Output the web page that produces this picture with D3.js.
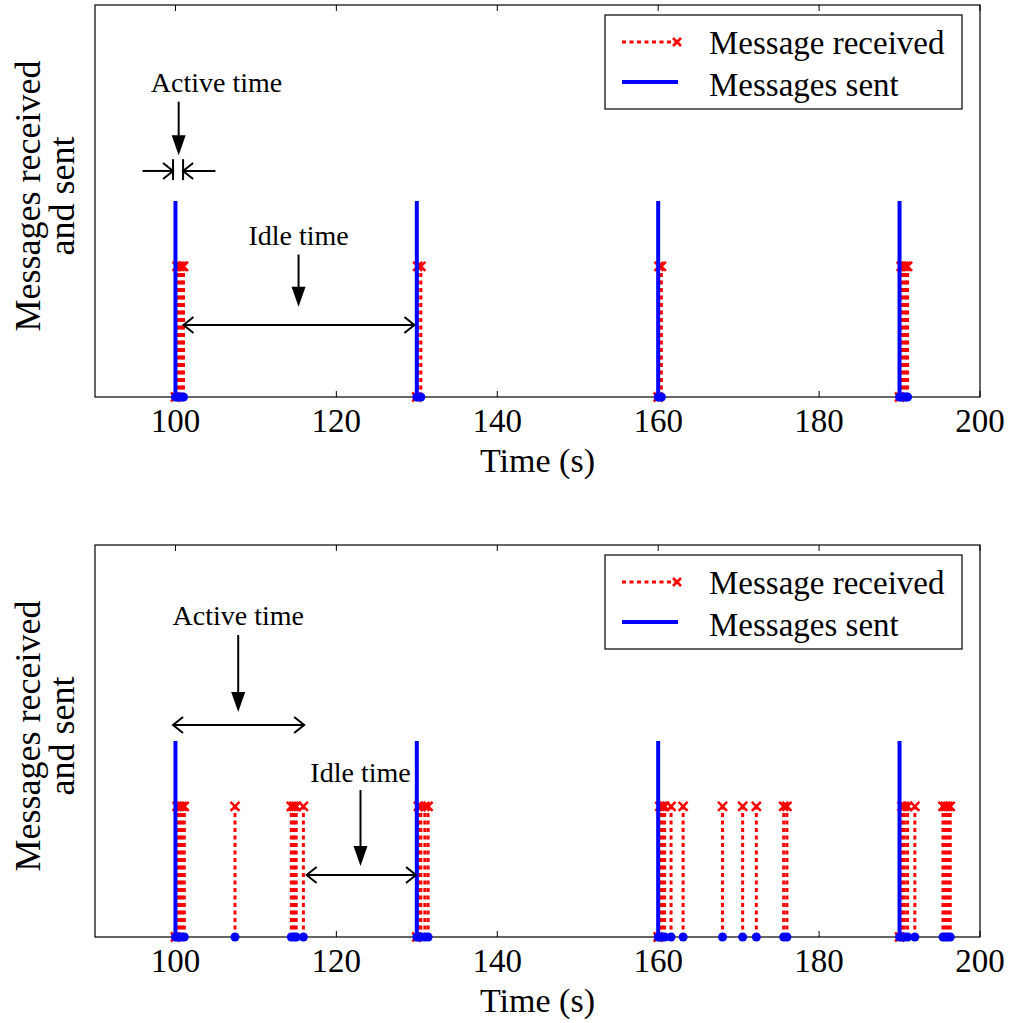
<!DOCTYPE html>
<html lang="en">
<head>
  <meta charset="UTF-8">
  <title>Messages received and sent</title>
  <script src="https://d3js.org/d3.v7.min.js"></script>
  <style>
      body { margin: 0; background: #fff; }
      text { font-family: "Liberation Serif", "Times New Roman", serif; fill: #000; }
      .frame { fill: none; stroke: #000; stroke-width: 1.2px; }
      .tick-mark { stroke: #000; stroke-width: 1px; }
      .recv { stroke: #f00; stroke-width: 3px; stroke-dasharray: 4 3.5; }
      .sent { stroke: #00f; stroke-width: 4px; }
      .anno { stroke: #000; stroke-width: 2px; fill: none; }
  </style>
</head>
<body>
<svg width="1013" height="1023"></svg>
<script>
  // data (time in s)
  const xTicks = [100, 120, 140, 160, 180, 200];
  const sentLevel = 1.5;
  const receivedLevel = 1;

  const topSent = [100, 130, 160, 190];
  const topReceived = [100.2, 100.5, 100.8, 101.0, 130.1, 130.5, 160.1, 160.4,
                       190.2, 190.5, 190.8, 191.0];

  const bottomSent = [100, 130, 160, 190];
  const bottomReceived = [100.2, 100.5, 100.8, 101.1, 107.4, 114.4, 114.7, 115.0, 115.9,
                          130.2, 130.5, 131.0, 131.4,
                          160.2, 160.5, 160.8, 161.6, 163.1, 168.0, 170.5, 172.2, 175.6, 176.0,
                          190.3, 190.6, 191.0, 191.9, 195.4, 195.7, 196.0, 196.3];

  const legendLabels = ["Message received", "Messages sent"];

  // annotations in data units: [t, value]
  const topAnno = {
    texts: [{label: "Active time", t: 105.1, v: 2.334}, {label: "Idle time", t: 115.3, v: 1.16}],
    down: [{t: 100.4, v1: 2.26, v2: 1.85}, {t: 115.3, v1: 1.09, v2: 0.69}],
    double: [{t1: 101.0, t2: 129.7, v: 0.551}],
    squeeze: {t1: 99.7, t2: 100.95, v: 1.73, vTop: 1.82, vBot: 1.66, out1: 95.9, out2: 104.97}
  };
  const bottomAnno = {
    texts: [{label: "Active time", t: 107.8, v: 2.388}, {label: "Idle time", t: 123.0, v: 1.186}],
    down: [{t: 107.8, v1: 2.311, v2: 1.722}, {t: 123.0, v1: 1.125, v2: 0.543}],
    double: [{t1: 99.7, t2: 116.0, v: 1.622}, {t1: 116.3, t2: 129.9, v: 0.474}],
    squeeze: null
  };

  const svg = d3.select("svg");

  const x = d3.scaleLinear().domain([90, 200]).range([95, 980]);

  function drawPanel(top, bottom, sent, received, anno) {
    const y = d3.scaleLinear().domain([0, 3]).range([bottom, top]);
    const g = svg.append("g");

    // frame
    g.append("rect").attr("class", "frame")
      .attr("x", x(90)).attr("y", top)
      .attr("width", x(200) - x(90)).attr("height", bottom - top);

    // ticks (inward, bottom and top)
    xTicks.forEach(t => {
      g.append("line").attr("class", "tick-mark")
        .attr("x1", x(t)).attr("x2", x(t)).attr("y1", bottom).attr("y2", bottom - 6);
      g.append("line").attr("class", "tick-mark")
        .attr("x1", x(t)).attr("x2", x(t)).attr("y1", top).attr("y2", top + 6);
      g.append("text").attr("x", x(t)).attr("y", bottom + 35)
        .attr("text-anchor", "middle").style("font-size", "33px").text(t);
    });

    g.append("text").attr("x", (x(90) + x(200)) / 2).attr("y", bottom + 75)
      .attr("text-anchor", "middle").style("font-size", "34px").text("Time (s)");

    const ymid = (top + bottom) / 2 - 5;
    g.append("text").attr("transform", `translate(40,${ymid}) rotate(-90)`)
      .attr("text-anchor", "middle").style("font-size", "36px").text("Messages received");
    g.append("text").attr("transform", `translate(74,${ymid}) rotate(-90)`)
      .attr("text-anchor", "middle").style("font-size", "36px").text("and sent");

    // received stems (red dotted with x markers)
    g.append("g").selectAll("line").data(received).join("line")
      .attr("class", "recv")
      .attr("x1", d => x(d)).attr("x2", d => x(d))
      .attr("y1", y(0)).attr("y2", y(receivedLevel));

    const cross = (sel, cx, cy, s) => {
      sel.append("path")
        .attr("d", `M${cx - s},${cy - s}L${cx + s},${cy + s}M${cx - s},${cy + s}L${cx + s},${cy - s}`)
        .attr("stroke", "#f00").attr("stroke-width", 2.5).attr("fill", "none");
    };
    received.forEach(t => cross(g, x(t), y(receivedLevel), 4.5));
    sent.forEach(t => cross(g, x(t), y(0), 4.5));

    // sent stems (blue solid, dots at baseline)
    g.append("g").selectAll("line").data(sent).join("line")
      .attr("class", "sent")
      .attr("x1", d => x(d)).attr("x2", d => x(d))
      .attr("y1", y(0)).attr("y2", y(sentLevel));
    g.append("g").selectAll("circle").data(received.concat(sent)).join("circle")
      .attr("cx", d => x(d)).attr("cy", y(0)).attr("r", 4.5).attr("fill", "#00f");

    // legend
    const lx = 605, ly = top + 10;
    g.append("rect").attr("x", lx).attr("y", ly).attr("width", 357).attr("height", 94)
      .attr("fill", "#fff").attr("stroke", "#000").attr("stroke-width", 1.2);
    g.append("line").attr("class", "recv")
      .attr("x1", lx + 17).attr("x2", lx + 72).attr("y1", ly + 27).attr("y2", ly + 27);
    cross(g, lx + 72, ly + 27, 4);
    g.append("line").attr("class", "sent")
      .attr("x1", lx + 17).attr("x2", lx + 73).attr("y1", ly + 67).attr("y2", ly + 67);
    legendLabels.forEach((s, i) => {
      g.append("text").attr("x", lx + 104).attr("y", ly + 39 + i * 42)
        .style("font-size", "33px").text(s);
    });

    // annotations
    anno.texts.forEach(a => {
      g.append("text").attr("x", x(a.t)).attr("y", y(a.v))
        .attr("text-anchor", "middle").style("font-size", "28px").text(a.label);
    });
    anno.down.forEach(a => {
      const ax = x(a.t), y1 = y(a.v1), y2 = y(a.v2);
      g.append("line").attr("class", "anno").attr("x1", ax).attr("x2", ax)
        .attr("y1", y1).attr("y2", y2 - 18);
      g.append("path").attr("d", `M${ax - 7},${y2 - 20}L${ax + 7},${y2 - 20}L${ax},${y2}Z`)
        .attr("fill", "#000");
    });
    const openHead = (px, py, dir) =>
      `M${px - dir * 10},${py - 8}L${px},${py}L${px - dir * 10},${py + 8}`;
    anno.double.forEach(a => {
      const x1 = x(a.t1), x2 = x(a.t2), ay = y(a.v);
      g.append("line").attr("class", "anno").attr("x1", x1).attr("x2", x2)
        .attr("y1", ay).attr("y2", ay);
      g.append("path").attr("class", "anno").attr("d", openHead(x1, ay, -1));
      g.append("path").attr("class", "anno").attr("d", openHead(x2, ay, 1));
    });
    if (anno.squeeze) {
      const s = anno.squeeze, ay = y(s.v);
      [s.t1, s.t2].forEach(t => {
        g.append("line").attr("class", "anno").attr("x1", x(t)).attr("x2", x(t))
          .attr("y1", y(s.vTop)).attr("y2", y(s.vBot));
      });
      g.append("line").attr("class", "anno").attr("x1", x(s.out1)).attr("x2", x(s.t1))
        .attr("y1", ay).attr("y2", ay);
      g.append("path").attr("class", "anno").attr("d", openHead(x(s.t1), ay, 1));
      g.append("line").attr("class", "anno").attr("x1", x(s.out2)).attr("x2", x(s.t2))
        .attr("y1", ay).attr("y2", ay);
      g.append("path").attr("class", "anno").attr("d", openHead(x(s.t2), ay, -1));
    }
  }

  drawPanel(5, 397, topSent, topReceived, topAnno);
  drawPanel(545, 937, bottomSent, bottomReceived, bottomAnno);
</script>
</body>
</html>
